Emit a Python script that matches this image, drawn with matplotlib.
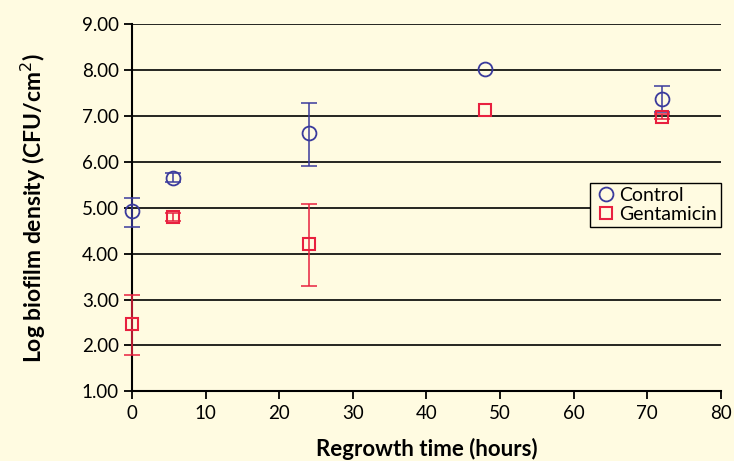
import numpy as np
import matplotlib.pyplot as plt
from matplotlib.lines import Line2D

# data
hours = [0, 5.5, 24, 48, 72]
control = [4.93, 5.65, 6.62, 8.01, 7.36]
control_lo = [0.36, 0.10, 0.72, 0.0, 0.28]
control_hi = [0.27, 0.10, 0.66, 0.0, 0.29]
genta = [2.46, 4.80, 4.21, 7.13, 6.98]
genta_lo = [0.66, 0.08, 0.91, 0.0, 0.05]
genta_hi = [0.64, 0.08, 0.88, 0.0, 0.05]

bg = '#FFFBE1'
blue = '#3A3A9C'
red = '#E8203F'

plt.rcParams['font.family'] = ['Lato', 'DejaVu Sans']

fig = plt.figure(figsize=(7.34, 4.61), dpi=100, facecolor=bg)
ax = fig.add_axes([0.18, 0.151, 0.802, 0.797], facecolor=bg)

# horizontal grid lines
for y in range(2, 10):
    ax.axhline(y, color='black', lw=1.2, zorder=1)


def draw(x, y, lo, hi, color, marker, ms, mew):
    x = np.array(x); y = np.array(y); lo = np.array(lo); hi = np.array(hi)
    has = (lo > 0) | (hi > 0)
    _, caps, bars = ax.errorbar(x[has], y[has], yerr=[lo[has], hi[has]], fmt='none',
                                ecolor=color, elinewidth=1.1, capsize=5.5,
                                capthick=1.1, zorder=3)
    for a in list(caps) + list(bars):
        a.set_clip_on(False)
    ax.plot(x, y, ls='none', marker=marker, ms=ms, mfc='none', mec=color,
            mew=mew, zorder=4, clip_on=False)


draw(hours, control, control_lo, control_hi, blue, 'o', 10, 1.3)
draw(hours, genta, genta_lo, genta_hi, red, 's', 8.5, 1.5)

ax.set_xlim(0, 80)
ax.set_ylim(1, 9)
ax.set_xticks(range(0, 81, 10))
ax.set_yticks(range(1, 10))
ax.set_yticklabels([f'{v:.2f}' for v in range(1, 10)])

for s in ['top', 'right']:
    ax.spines[s].set_visible(False)
for s in ['left', 'bottom']:
    ax.spines[s].set_linewidth(1.5)
    ax.spines[s].set_color('black')
ax.tick_params(direction='out', length=6, width=1.3, labelsize=13.5, colors='black')
ax.tick_params(axis='x', pad=4)

ax.set_xlabel('Regrowth time (hours)', fontsize=16, fontweight='bold', labelpad=11)
ax.set_ylabel('Log biofilm density (CFU/cm$^2$)', fontsize=16.5, fontweight='bold', labelpad=24)

handles = [Line2D([], [], marker='o', ls='none', ms=10, mfc='none', mec=blue, mew=1.3),
           Line2D([], [], marker='s', ls='none', ms=8.5, mfc='none', mec=red, mew=1.5)]
leg = ax.legend(handles, ['Control', 'Gentamicin'], loc='upper right',
                bbox_to_anchor=(1.0, 0.567), fontsize=14, frameon=True, fancybox=False,
                edgecolor='black', facecolor=bg, framealpha=1, handletextpad=0.1,
                borderpad=0.2, labelspacing=0.1, handlelength=1.2, borderaxespad=0)
leg.get_frame().set_linewidth(1.0)

fig.savefig('out.png', dpi=100, facecolor=bg)
